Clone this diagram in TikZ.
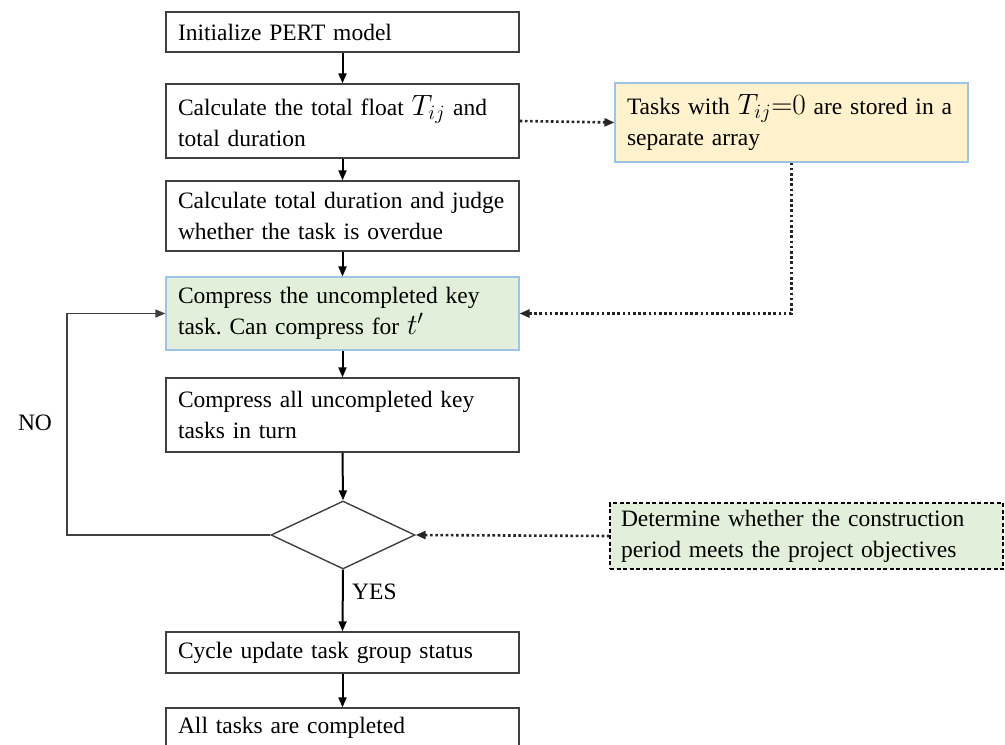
\documentclass[tikz,border=0pt]{standalone}
\usepackage{fontspec}
\setmainfont{Liberation Serif}
\usetikzlibrary{shapes.geometric,arrows.meta}
\definecolor{yellowfill}{HTML}{FFF2CC}
\definecolor{greenfill}{HTML}{E2EFDA}
\definecolor{blueborder}{HTML}{9DC3E6}
\definecolor{boxborder}{HTML}{404040}
\newcommand{\mymath}[1]{\scalebox{1.18}{$#1$}}
\frenchspacing
\begin{document}
\begin{tikzpicture}[x=1pt,y=-1pt,
  every node/.style={font=\fontsize{23.5}{31}\selectfont},
  proc/.style={draw=boxborder,line width=1.4pt,fill=white,minimum width=353pt,
    text width=329pt,align=left,inner xsep=12pt,inner ysep=0pt,anchor=center},
  note/.style={proc,draw=blueborder,line width=1.1pt},
  flow/.style={-{Triangle[length=10pt,width=8pt]},line width=2pt,black},
  dots/.style={-{Triangle[length=10pt,width=8pt]},line width=2.6pt,dash pattern=on 2.6pt off 2.6pt,black!85},
  loopline/.style={-{Triangle[length=10pt,width=8pt]},line width=1.6pt,boxborder},
  dec/.style={draw=boxborder,line width=1.4pt,diamond,aspect=2.12,minimum width=144pt,minimum height=68pt,inner sep=0pt},
  lbl/.style={inner sep=0pt}]
\useasboundingbox (0,0) rectangle (1005,745);
\clip (0,0) rectangle (1005,745);
\node[proc,minimum height=40pt] (b1) at (342.5,32) {Initialize PERT model};
\node[proc,minimum height=74pt] (b2) at (342.5,121) {Calculate the total float \mymath{T_{ij}} and\\total duration};
\node[proc,minimum height=70pt] (b3) at (342.5,216) {Calculate total duration and judge\\whether the task is overdue};
\node[note,fill=greenfill,minimum height=73pt] (b4) at (342.5,313.5) {Compress the uncompleted key\\task. Can compress for \mymath{t'}};
\node[proc,minimum height=74pt] (b5) at (342.5,415) {Compress all uncompleted key\\tasks in turn};
\node[dec] (d) at (343,535) {};
\node[proc,minimum height=41pt] (b6) at (342.5,652.5) {Cycle update task group status};
\node[proc,minimum height=40pt] (b7) at (342.5,728) {All tasks are completed};
\node[note,fill=yellowfill,minimum height=79pt] (y1) at (791.5,122.5) {\mbox{Tasks with \mymath{T_{ij}}\mymath{{=}0} are stored in a}\\separate array};
\node[proc,draw=black,fill=greenfill,dash pattern=on 4pt off 2.5pt,line width=1.1pt,minimum width=393pt,text width=371pt,inner xsep=11pt,minimum height=66pt] (g2) at (806.5,536) {Determine whether the construction\\period meets the project objectives};
\coordinate (lp) at (67,535);
\draw[flow] (b1.south) -- (b2.north);
\draw[flow] (b2.south) -- (b3.north);
\draw[flow] (b3.south) -- (b4.north);
\draw[flow] (b4.south) -- (b5.north);
\draw[flow] (b5.south) -- (d.north);
\draw[flow] (d.south) -- (b6.north);
\draw[flow] (b6.south) -- (b7.north);
\draw[dots] (b2.east) -- (y1.west);
\draw[dots] (y1.south) |- (b4.east);
\draw[dots] (g2.west) -- (d.east);
\draw[loopline] (d.west) -- (lp) |- (b4.west);
\node[lbl] (no) at (35,423) {NO};
\node[lbl,anchor=west] (yes) at (352,592) {YES};
\end{tikzpicture}
\end{document}
